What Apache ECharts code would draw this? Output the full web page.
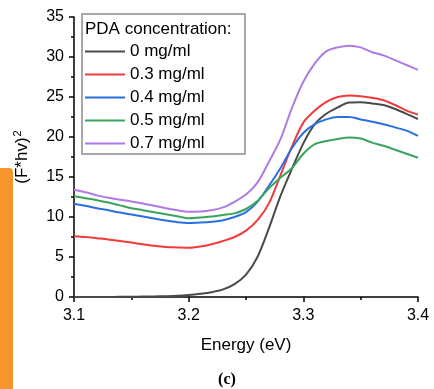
<!DOCTYPE html>
<html>
<head>
<meta charset="utf-8">
<script src="https://cdn.jsdelivr.net/npm/echarts@6/dist/echarts.min.js"></script>
<style>html,body{margin:0;padding:0;background:#fff;}#c{width:434px;height:389px;}</style>
</head>
<body>
<div id="c"></div>
<script>
var energy = [3.10,3.11,3.12,3.13,3.14,3.15,3.16,3.17,3.18,3.19,3.20,3.21,3.22,3.23,3.24,3.25,3.26,3.27,3.28,3.29,3.30,3.31,3.32,3.33,3.34,3.35,3.36,3.37,3.38,3.39,3.40];
var seriesNames = ['0 mg/ml','0.3 mg/ml','0.4 mg/ml','0.5 mg/ml','0.7 mg/ml'];
var c0  = [0.0,0.0,0.0,0.01,0.02,0.03,0.05,0.07,0.1,0.15,0.25,0.4,0.6,0.95,1.6,2.8,5.0,8.6,12.6,16.0,19.2,21.6,22.9,23.7,24.3,24.35,24.2,24.0,23.5,22.9,22.25];
var c03 = [7.6,7.5,7.35,7.2,7.0,6.8,6.6,6.4,6.25,6.2,6.15,6.3,6.6,7.0,7.5,8.3,9.6,11.7,15.2,18.8,21.8,23.3,24.4,25.0,25.2,25.1,24.9,24.6,24.0,23.3,22.8];
var c04 = [11.65,11.4,11.1,10.85,10.55,10.3,10.05,9.8,9.55,9.35,9.25,9.3,9.4,9.6,10.0,10.6,11.9,13.9,16.1,18.6,20.5,21.6,22.2,22.5,22.5,22.2,21.9,21.6,21.2,20.8,20.15];
var c05 = [12.6,12.35,12.1,11.8,11.45,11.1,10.85,10.6,10.35,10.1,9.85,9.95,10.05,10.25,10.45,11.0,12.0,13.6,14.9,16.1,17.9,19.1,19.5,19.75,19.95,19.8,19.3,18.9,18.4,17.9,17.4];
var c07 = [13.4,13.1,12.7,12.4,12.15,11.95,11.7,11.4,11.1,10.85,10.65,10.7,10.85,11.2,11.9,12.8,14.3,16.9,19.7,23.6,26.9,29.2,30.7,31.2,31.4,31.2,30.6,30.2,29.6,29.0,28.4];
var xTicks = [3.1,3.2,3.3,3.4];
var yTicks = [0,5,10,15,20,25,30,35];

var values = [c0,c03,c04,c05,c07];
var colors = ['#4a4a4a','#f03b3b','#2a6fe0','#3aa35c','#b07ae6'];
var FONT = "'Liberation Sans', Arial, sans-serif";

var chart = echarts.init(document.getElementById('c'), null, {renderer:'canvas'});
var series = values.map(function(arr, i){
  return {
    name: seriesNames[i],
    type: 'line',
    symbol: 'none',
    smooth: 0.3,
    data: energy.map(function(e, j){ return [e, arr[j]]; }),
    lineStyle: {color: colors[i], width: 2},
    itemStyle: {color: colors[i]},
    z: 3
  };
});

chart.setOption({
  animation: false,
  textStyle: {fontFamily: FONT},
  grid: {left: 74, right: 16, top: 17, bottom: 92, outerBoundsMode: 'none'},
  title: {
    text: 'PDA concentration:',
    left: 85, top: 21, padding: 0,
    textStyle: {fontFamily: FONT, fontSize: 17, fontWeight: 'normal', color: '#000'}
  },
  legend: {
    orient: 'vertical',
    left: 85, top: 43,
    padding: 0,
    icon: 'rect',
    itemWidth: 40, itemHeight: 2, itemGap: 6,
    data: seriesNames,
    textStyle: {fontFamily: FONT, fontSize: 17, color: '#000', lineHeight: 17},
    selectedMode: false
  },
  graphic: [
    {type: 'rect', shape: {x: 82, y: 14, width: 163, height: 140}, style: {fill: '#fff', stroke: '#8c8c8c', lineWidth: 1.5}, z: 1},
    {type: 'rect', shape: {x: 0, y: 168, width: 13, height: 221, r: [0, 4, 0, 0]}, style: {fill: '#f7962f'}, z: 1},
    {type: 'text', x: 227, y: 380, style: {text: '(c)', fontFamily: "'Liberation Serif', 'DejaVu Serif', serif", fontWeight: 'bold', fontSize: 16, fill: '#000', align: 'center', verticalAlign: 'middle'}, z: 1}
  ],
  xAxis: {
    type: 'value', min: 3.1, max: 3.4, interval: 0.1,
    name: 'Energy (eV)', nameLocation: 'middle', nameGap: 40,
    nameTextStyle: {fontFamily: FONT, fontSize: 17, color: '#000'},
    axisLine: {show: true, lineStyle: {color: '#000', width: 1.5}},
    axisTick: {show: true, length: 5, lineStyle: {color: '#000', width: 1.5}},
    minorTick: {show: true, splitNumber: 2, length: 3, lineStyle: {color: '#000', width: 1.5}},
    splitLine: {show: false},
    axisLabel: {fontFamily: FONT, fontSize: 16, color: '#000', margin: 11,
      formatter: function(v){ return xTicks.indexOf(Math.round(v*10)/10) >= 0 ? v.toFixed(1) : ''; }}
  },
  yAxis: {
    type: 'value', min: 0, max: 35, interval: 5,
    name: '(F*hv){s|2}', nameLocation: 'middle', nameGap: 42, nameRotate: 90,
    nameTextStyle: {fontFamily: FONT, fontSize: 17, color: '#000',
      rich: {s: {fontFamily: FONT, fontSize: 11, color: '#000', padding: [0, 0, 9, 1]}}},
    axisLine: {show: true, lineStyle: {color: '#000', width: 1.5}},
    axisTick: {show: true, length: 5, lineStyle: {color: '#000', width: 1.5}},
    minorTick: {show: true, splitNumber: 2, length: 3, lineStyle: {color: '#000', width: 1.5}},
    splitLine: {show: false},
    axisLabel: {fontFamily: FONT, fontSize: 16, color: '#000', margin: 10,
      formatter: function(v){ return yTicks.indexOf(v) >= 0 ? String(v) : ''; }}
  },
  series: series
});
</script>
</body>
</html>
